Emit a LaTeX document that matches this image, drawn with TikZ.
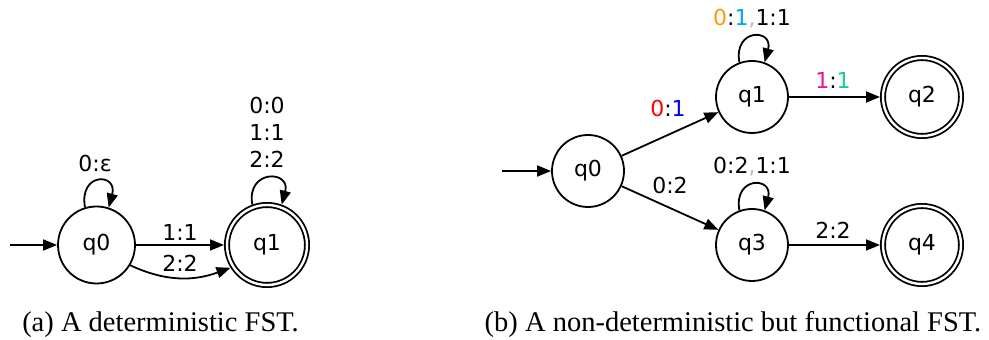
\documentclass[tikz,border=0pt]{standalone}
\usepackage{fontspec}
\setmainfont{Liberation Serif}
\newfontfamily\dvs{DejaVu Sans}
\usetikzlibrary{arrows.meta}
\definecolor{corange}{HTML}{FF9900}
\definecolor{ccyan}{HTML}{00A6F0}
\definecolor{cgray}{HTML}{BBBBBB}
\definecolor{cred}{HTML}{FF0000}
\definecolor{cblue}{HTML}{0000FF}
\definecolor{cmag}{HTML}{EE1199}
\definecolor{cteal}{HTML}{11CC99}
\tikzset{
  st/.style={circle, draw, line width=1.8pt, inner sep=0pt, font=\dvs\fontsize{22}{26}\selectfont},
  acc/.style={st, double, double distance=2.4pt, outer sep=3pt},
  tr/.style={line width=1.8pt, -{Triangle[length=14pt,width=11pt]}},
  lab/.style={font=\dvs\fontsize{22}{27}\selectfont, inner sep=0pt, align=center},
  captext/.style={font=\fontsize{28.5}{30}\selectfont, inner sep=0pt, anchor=base}
}
\begin{document}
\begin{tikzpicture}[x=1pt,y=1pt]
\useasboundingbox (0,0) rectangle (989,340);
% (a)
\node[st, minimum size=77pt] (a0) at (96.5,95) {q0};
\node[acc, minimum size=80pt] (a1) at (267,95) {q1};
\coordinate (ai) at (10,95);
\draw[tr] (ai) -- (a0);
\draw[tr] (a0.107) .. controls +(100:36) and +(75:36) .. (a0.72);
\node[lab] (la0) at (95,177) {0:ε};
\draw[tr] (a1.110) .. controls +(100:36) and +(75:36) .. (a1.70);
\node[lab] (la1) at (267,208) {0:0\\1:1\\2:2};
\draw[tr] (a0) -- (a1);
\node[lab] (la2) at (180,108) {1:1};
\draw[tr] (a0.-31) to[out=-25,in=-160] (a1.-148);
\node[lab] (la3) at (180,77) {2:2};
\node[captext] (ca) at (160.5,8) {(a) A deterministic FST.};
% (b)
\node[st, minimum size=72pt] (b0) at (588,169) {q0};
\node[st, minimum size=72pt] (b1) at (752,243) {q1};
\node[acc, minimum size=78pt] (b2) at (922,243) {q2};
\node[st, minimum size=72pt] (b3) at (752,95) {q3};
\node[acc, minimum size=78pt] (b4) at (922,95) {q4};
\coordinate (bi) at (502,169);
\draw[tr] (bi) -- (b0);
\draw[tr] (b0) -- (b1);
\draw[tr] (b0) -- (b3);
\draw[tr] (b1) -- (b2);
\draw[tr] (b3) -- (b4);
\draw[tr] (b1.110) .. controls +(100:35) and +(75:35) .. (b1.70);
\draw[tr] (b3.110) .. controls +(100:35) and +(75:35) .. (b3.70);
\node[lab] (lb1) at (752,321) {\textcolor{corange}{0}:\textcolor{ccyan}{1}\textcolor{cgray}{,}1:1};
\node[lab] (lb2) at (668,232) {\textcolor{cred}{0}:\textcolor{cblue}{1}};
\node[lab] (lb3) at (833,260) {\textcolor{cmag}{1}:\textcolor{cteal}{1}};
\node[lab] (lb4) at (670,155) {0:2};
\node[lab] (lb5) at (752,173) {0:2\textcolor{cgray}{,}1:1};
\node[lab] (lb6) at (833,110) {2:2};
\node[captext] (cb) at (733,8) {(b) A non-deterministic but functional FST.};
\end{tikzpicture}
\end{document}
